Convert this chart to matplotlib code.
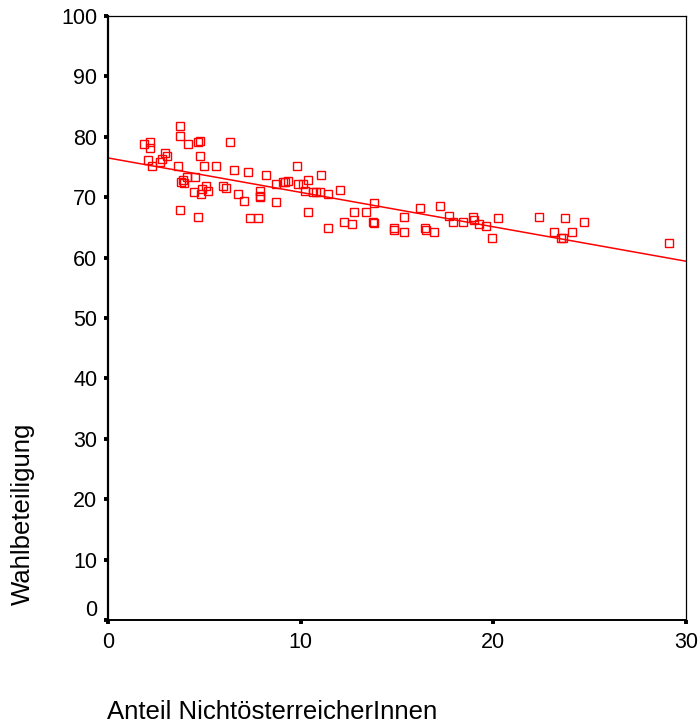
import numpy as np
import matplotlib.pyplot as plt
from matplotlib.transforms import ScaledTranslation

# share of non-Austrian residents (%) vs. voter turnout (%) per district
anteil = [
    3.73, 3.73, 1.87, 2.18, 2.18, 4.16, 4.68, 4.80, 6.32, 2.95,
    3.04, 2.09, 2.30, 2.69, 2.80, 4.77, 3.64, 4.99, 5.60, 6.55,
    7.27, 8.19, 9.81, 4.08, 4.51, 3.80, 3.90, 3.95, 5.11, 4.47,
    4.90, 4.85, 5.20, 5.97, 6.15, 6.75, 7.06, 7.88, 7.88, 7.88,
    8.74, 8.70, 9.20, 9.34, 3.73, 4.68, 7.39, 7.79, 11.07, 9.08,
    9.86, 10.12, 10.38, 10.20, 10.64, 10.81, 10.98, 11.41, 12.02, 10.38,
    11.41, 12.23, 12.68, 12.77, 13.37, 13.80, 13.77, 13.80, 14.83, 14.87,
    15.35, 15.35, 16.17, 16.46, 16.50, 16.90, 17.23, 17.72, 17.89, 18.41,
    18.93, 19.00, 19.27, 19.62, 19.91, 20.22, 22.38, 23.73, 24.68, 23.16,
    24.08, 23.50, 23.60, 29.12,
]
wahlbeteiligung = [
    81.8, 80.2, 78.8, 79.1, 78.1, 78.8, 79.2, 79.3, 79.1, 77.4,
    76.9, 76.2, 75.2, 75.9, 76.3, 76.9, 75.2, 75.1, 75.2, 74.5,
    74.1, 73.6, 75.2, 73.4, 73.4, 72.5, 72.8, 72.4, 71.9, 70.9,
    71.3, 70.5, 71.0, 71.9, 71.5, 70.5, 69.4, 71.1, 70.2, 70.0,
    72.2, 69.2, 72.5, 72.6, 67.9, 66.8, 66.5, 66.5, 73.6, 72.5,
    72.2, 72.2, 72.8, 71.1, 70.8, 70.8, 70.8, 70.5, 71.2, 67.5,
    64.9, 65.9, 65.5, 67.6, 67.6, 69.0, 65.9, 65.7, 64.9, 64.5,
    64.3, 66.8, 68.2, 64.9, 64.5, 64.3, 68.6, 66.9, 65.9, 65.9,
    66.7, 66.3, 65.6, 65.2, 63.2, 66.5, 66.8, 66.6, 65.9, 64.2,
    64.2, 63.2, 63.2, 62.5,
]

# fitted regression line, end points
fit_x = [0, 30]
fit_y = [76.5, 59.4]

x_ticks = [0, 10, 20, 30]
y_ticks = [0, 10, 20, 30, 40, 50, 60, 70, 80, 90, 100]

plt.rcParams['font.family'] = ['Liberation Sans', 'DejaVu Sans']

fig = plt.figure(figsize=(7.0, 7.24), dpi=100)
ax = fig.add_axes([108 / 700, 1 - 620 / 724, (686 - 108) / 700, (620 - 16) / 724])

ax.plot(anteil, wahlbeteiligung, linestyle='none', marker='s',
        markersize=6.0, markerfacecolor='none', markeredgecolor='#ff0000',
        markeredgewidth=1.0)
ax.plot(fit_x, fit_y, color='#ff0000', linewidth=1.1)

ax.set_xlim(0, 30)
ax.set_ylim(0, 100)
ax.set_xticks(x_ticks)
ax.set_yticks(y_ticks)
ax.tick_params(axis='both', direction='out', length=2.6, width=2.8,
               labelsize=15.5, color='black')
ax.tick_params(axis='x', pad=6)
ax.tick_params(axis='y', pad=5)

ax.spines['left'].set_linewidth(1.6)
ax.spines['bottom'].set_linewidth(1.4)
ax.spines['top'].set_linewidth(0.9)
ax.spines['right'].set_linewidth(0.9)

# lift the "0" on the y axis a bit, clear of the x-axis label
lbl0 = ax.get_yticklabels()[0]
lbl0.set_transform(lbl0.get_transform() + ScaledTranslation(0, 12 / 100, fig.dpi_scale_trans))

fig.text(23 / 700, 1 - 605 / 724, 'Wahlbeteiligung', rotation=90,
         ha='center', va='bottom', fontsize=18.5)
fig.text(107 / 700, 1 - 712 / 724, 'Anteil NichtösterreicherInnen',
         ha='left', va='center', fontsize=18.5)

fig.savefig('out.png', dpi=100)
